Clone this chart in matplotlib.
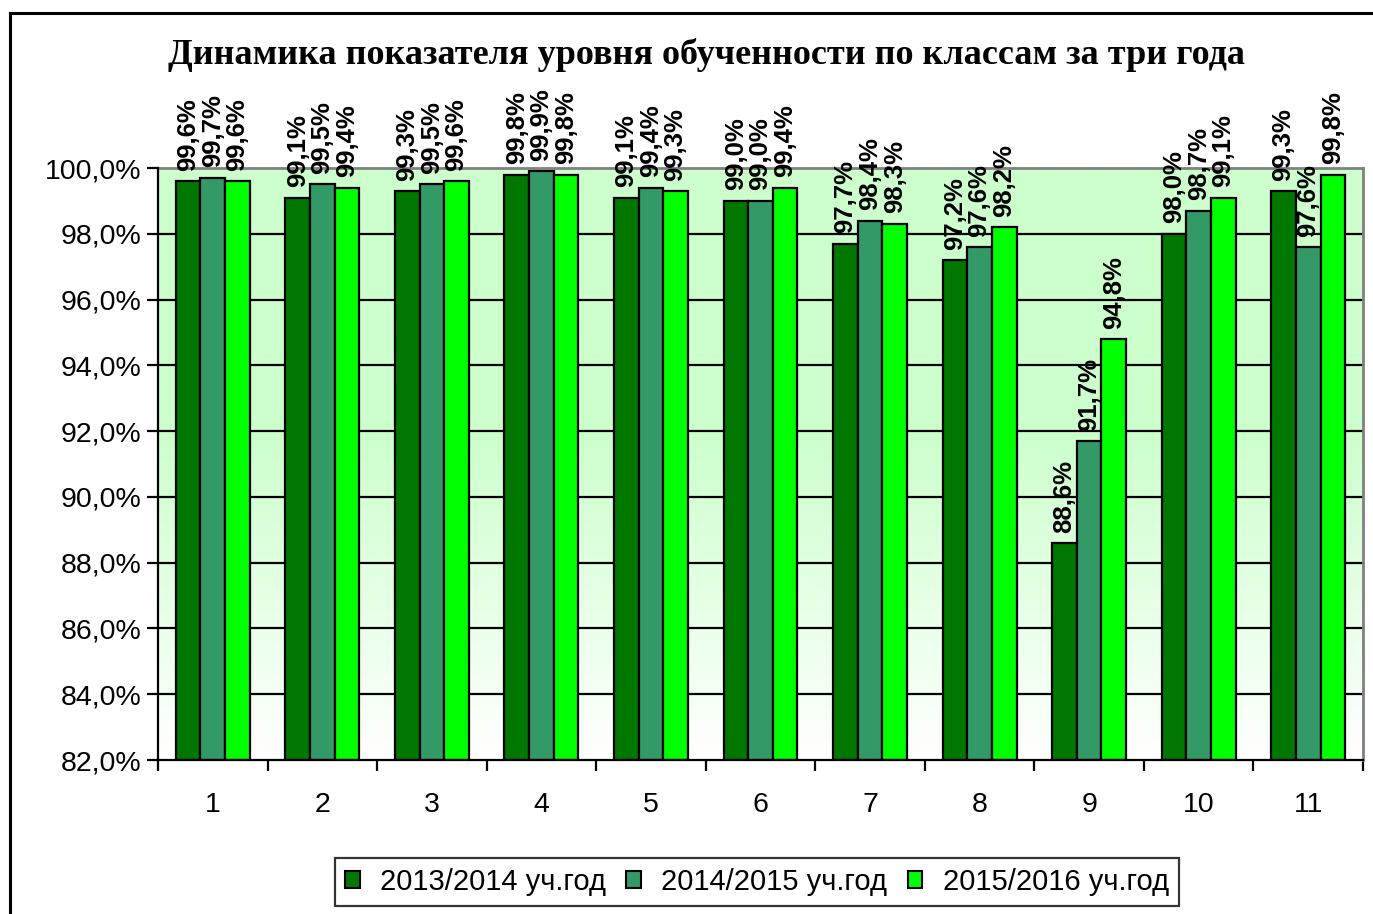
import numpy as np
import matplotlib
matplotlib.use("Agg")
import matplotlib.pyplot as plt
from matplotlib.lines import Line2D
from matplotlib.patches import Patch

categories = ["1", "2", "3", "4", "5", "6", "7", "8", "9", "10", "11"]
series_names = ["2013/2014 уч.год", "2014/2015 уч.год", "2015/2016 уч.год"]
s2013 = [99.6, 99.1, 99.3, 99.8, 99.1, 99.0, 97.7, 97.2, 88.6, 98.0, 99.3]
s2014 = [99.7, 99.5, 99.5, 99.9, 99.4, 99.0, 98.4, 97.6, 91.7, 98.7, 97.6]
s2015 = [99.6, 99.4, 99.6, 99.8, 99.3, 99.4, 98.3, 98.2, 94.8, 99.1, 99.8]
yticks = [82, 84, 86, 88, 90, 92, 94, 96, 98, 100]
title = "Динамика показателя уровня обученности по классам за три года"

colors = ["#007800", "#339966", "#00ff00"]

W, H = 1373, 914
fig = plt.figure(figsize=(W / 100, H / 100), dpi=100)
fig.patch.set_facecolor("white")
ax = fig.add_axes([158 / W, 1 - 760 / H, (1363 - 158) / W, (760 - 168) / H])

n = len(categories)
x = np.arange(n)
bw = 0.225

# background gradient
t = np.linspace(0, 1, 300)
fade = np.clip((t - 0.45) / 0.55, 0, 1)
top = np.array([0.8, 1.0, 0.8])
grad = top[None, :] * (1 - fade[:, None]) + np.ones(3)[None, :] * fade[:, None]
ax.imshow(grad[:, None, :], extent=[-0.5, n - 0.5, 82, 100], aspect="auto",
          zorder=0, interpolation="bilinear")

for yv in yticks[1:-1]:
    ax.axhline(yv, color="black", lw=1.6, zorder=1)

for i, (vals, c) in enumerate(zip([s2013, s2014, s2015], colors)):
    xs = x + (i - 1) * bw
    ax.bar(xs, [v - 82 for v in vals], bottom=82, width=bw, color=c,
           edgecolor="black", linewidth=1.6, zorder=2, label=series_names[i])
    for xi, v in zip(xs, vals):
        ax.annotate(f"{v:.1f}%".replace(".", ","), (xi, v), xytext=(0, 7.5),
                    textcoords="offset points", rotation=90, ha="center",
                    va="bottom", fontsize=18.5, fontweight="bold",
                    family="Liberation Sans", zorder=3, annotation_clip=False)

ax.set_xlim(-0.5, n - 0.5)
ax.set_ylim(82, 100)
ax.set_yticks(yticks)
ax.set_yticklabels([f"{v:.1f}%".replace(".", ",") for v in yticks],
                   fontsize=20.5, family="Liberation Sans")
ax.set_xticks(x)
ax.set_xticklabels(categories, fontsize=20.5, family="Liberation Sans")
ax.set_xticks(np.arange(n + 1) - 0.5, minor=True)
ax.tick_params(axis="x", which="major", length=0, pad=23)
ax.tick_params(axis="x", which="minor", length=8, width=1.6, direction="out")
ax.tick_params(axis="y", which="major", length=8, width=1.6, direction="out", pad=4)

for s in ["left", "bottom"]:
    ax.spines[s].set_color("black")
    ax.spines[s].set_linewidth(1.6)
for s in ["top", "right"]:
    ax.spines[s].set_color("#808080")
    ax.spines[s].set_linewidth(2)
ax.spines["left"].set_zorder(4)
ax.spines["bottom"].set_zorder(4)

fig.text(706 / W, 1 - 55 / H, title, ha="center", va="center",
         fontsize=26, fontweight="bold", family="Liberation Serif")

handles = [Patch(facecolor=c, edgecolor="black", linewidth=1.5) for c in colors]
leg = fig.legend(handles, series_names, loc="center", bbox_to_anchor=(757 / W, 1 - 882 / H),
                 ncol=3, frameon=True, fancybox=False, edgecolor="black",
                 prop={"family": "Liberation Sans", "size": 21},
                 handlelength=0.5, handleheight=0.5, handletextpad=0.7,
                 columnspacing=0.7, borderpad=0.35, borderaxespad=0)
leg.get_frame().set_linewidth(1.6)

# outer frame (left and top edges visible)
fig.add_artist(Line2D([10 / W, 10 / W], [0, 1 - 13 / H], transform=fig.transFigure,
                      color="black", lw=2.2))
fig.add_artist(Line2D([10 / W, 1], [1 - 13 / H, 1 - 13 / H], transform=fig.transFigure,
                      color="black", lw=2.2))

fig.savefig("out.png", dpi=100)
